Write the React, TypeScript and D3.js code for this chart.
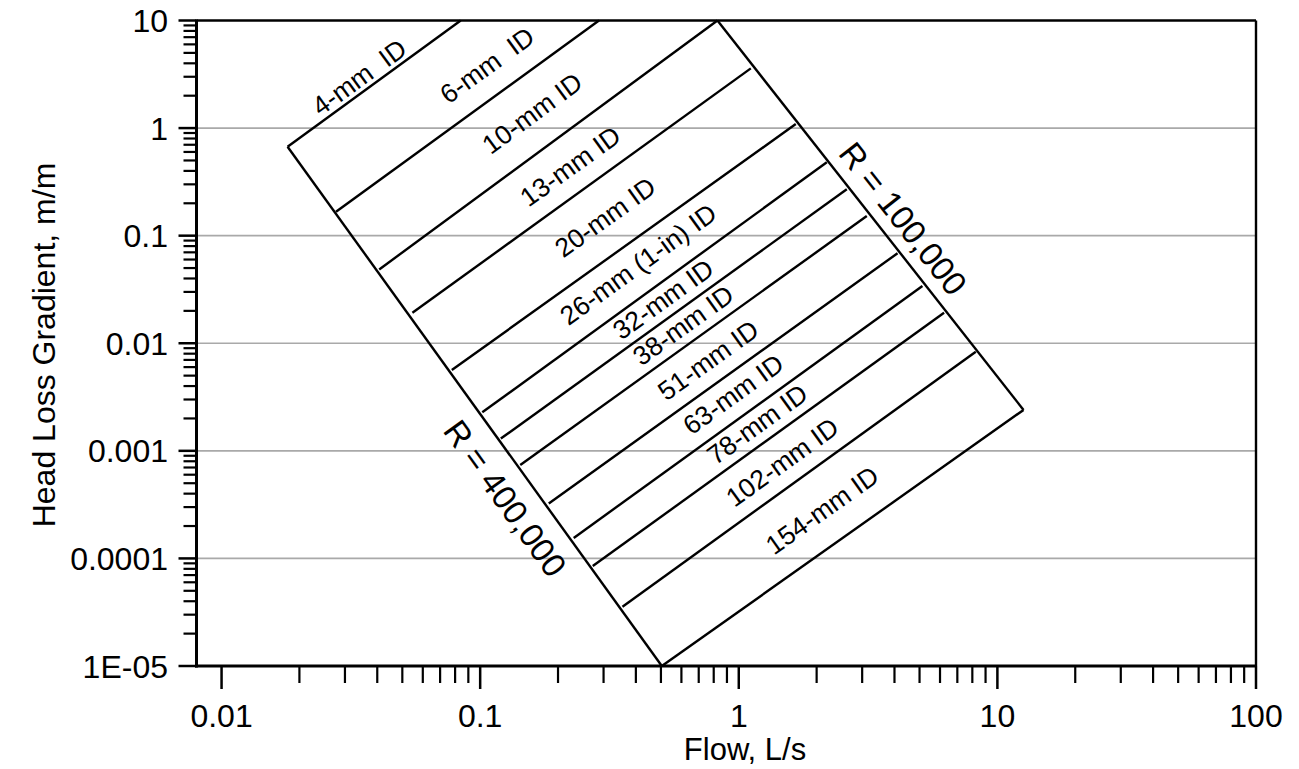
import React from 'react';
import * as d3 from 'd3';

// ---------- data ----------
const xMajorTicks = [0.01, 0.1, 1, 10, 100];
const xTickLabels = ['0.01', '0.1', '1', '10', '100'];
const yMajorTicks = [10, 1, 0.1, 0.01, 0.001, 0.0001, 0.00001];
const yTickLabels = ['10', '1', '0.1', '0.01', '0.001', '0.0001', '1E-05'];
const gridValues = [1, 0.1, 0.01, 0.001, 0.0001];

const pipeNames = [
  '4-mm  ID', '6-mm  ID', '10-mm ID', '13-mm ID', '20-mm ID', '26-mm (1-in) ID',
  '32-mm ID', '38-mm ID', '51-mm ID', '63-mm ID', '78-mm ID', '102-mm ID', '154-mm ID',
];
// [flow L/s, head loss m/m] where each pipe meets R = 400,000
const pipeStart: [number, number][] = [
  [0.0180, 0.671], [0.0277, 0.167], [0.0407, 0.0485], [0.0547, 0.0192],
  [0.0777, 0.00564], [0.1019, 0.00228], [0.1202, 0.0013], [0.1429, 0.000738],
  [0.1842, 0.000324], [0.230, 0.000155], [0.2725, 0.000085], [0.355, 0.0000356],
  [0.504, 0.00001],
];
// [flow, head] where each pipe meets R = 100,000 (or the top of the chart)
const pipeEnd: [number, number][] = [
  [0.0841, 10], [0.288, 10], [0.827, 10], [1.113, 3.59],
  [1.661, 1.09], [2.19, 0.481], [2.616, 0.270], [3.126, 0.1523],
  [4.11, 0.0686], [5.13, 0.0340], [6.22, 0.0192], [8.25, 0.00835],
  [12.62, 0.0024],
];
// label centres [flow, head]
const pipeLabelAt: [number, number][] = [
  [0.0340, 2.985], [0.1062, 3.86], [0.1586, 1.381], [0.2225, 0.4443],
  [0.304, 0.1491], [0.4076, 0.0545], [0.509, 0.02578], [0.6085, 0.01477],
  [0.760, 0.00699], [0.9496, 0.003375], [1.176, 0.001776], [1.469, 0.000787],
  [2.098, 0.000282],
];

const rNames = ['R = 400,000', 'R = 100,000'];
const rStart: [number, number][] = [[0.0180, 0.671], [0.827, 10]];
const rEnd: [number, number][] = [[0.504, 0.00001], [12.62, 0.0024]];
const rLabelAt: [number, number][] = [[0.1253, 0.000364], [4.33, 0.145]];

const xTitle = 'Flow, L/s';
const yTitle = 'Head Loss Gradient, m/m';

// ---------- layout ----------
const W = 1299;
const H = 769;
const left = 196.5;
const right = 1256;
const top = 20.5;
const bottom = 666;
const FONT = '"Liberation Sans", Arial, Helvetica, sans-serif';

export default function App() {
  const x = d3.scaleLog().domain([0.008, 100]).range([left, right]);
  const y = d3.scaleLog().domain([0.00001, 10]).range([bottom, top]);

  const xMinor = x.ticks().filter((v) => v >= 0.01 && !xMajorTicks.some((m) => Math.abs(m - v) / m < 1e-6));
  const yMinor = y.ticks().filter((v) => !yMajorTicks.some((m) => Math.abs(m - v) / m < 1e-6));

  const lineGen = d3.line<[number, number]>().x((d) => x(d[0])).y((d) => y(d[1]));

  const angleOf = (a: [number, number], b: [number, number]) =>
    (Math.atan2(y(b[1]) - y(a[1]), x(b[0]) - x(a[0])) * 180) / Math.PI;

  return (
    <svg width={W} height={H} style={{ position: 'absolute', left: 0, top: 0, background: '#fff' }} fontFamily={FONT}>
      <rect x={0} y={0} width={W} height={H} fill="#fff" />
      {/* grid */}
      {gridValues.map((g) => (
        <line key={'g' + g} x1={left} x2={right} y1={y(g)} y2={y(g)} stroke="#a9a9a9" strokeWidth={1.6} />
      ))}

      {/* pipe lines */}
      {pipeNames.map((n, i) => (
        <path key={'p' + n} d={lineGen([pipeStart[i], pipeEnd[i]]) || ''} stroke="#000" strokeWidth={2.4} fill="none" />
      ))}
      {/* R lines */}
      {rNames.map((n, i) => (
        <path key={'r' + n} d={lineGen([rStart[i], rEnd[i]]) || ''} stroke="#000" strokeWidth={2.4} fill="none" />
      ))}

      {/* pipe labels */}
      {pipeNames.map((n, i) => {
        const ang = angleOf(pipeStart[i], pipeEnd[i]);
        const cx = x(pipeLabelAt[i][0]);
        const cy = y(pipeLabelAt[i][1]);
        return (
          <text
            key={'pl' + n}
            transform={`translate(${cx},${cy}) rotate(${ang})`}
            textAnchor="middle"
            dy="0.36em"
            fontSize={26.5}
            fill="#000"
            style={{ whiteSpace: 'pre' }}
          >
            {n}
          </text>
        );
      })}
      {/* R labels */}
      {rNames.map((n, i) => {
        const ang = angleOf(rStart[i], rEnd[i]);
        const cx = x(rLabelAt[i][0]);
        const cy = y(rLabelAt[i][1]);
        return (
          <text
            key={'rl' + n}
            transform={`translate(${cx},${cy}) rotate(${ang})`}
            textAnchor="middle"
            dy="0.36em"
            fontSize={33.5}
            fill="#000"
          >
            {n}
          </text>
        );
      })}

      {/* frame */}
      <line x1={left} x2={right} y1={top} y2={top} stroke="#000" strokeWidth={2.4} />
      <line x1={right} x2={right} y1={top} y2={bottom} stroke="#000" strokeWidth={2.4} />
      <line x1={left} x2={left} y1={top - 1} y2={bottom + 1.5} stroke="#000" strokeWidth={3} />
      <line x1={left - 1.5} x2={right + 1} y1={bottom} y2={bottom} stroke="#000" strokeWidth={3} />

      {/* y ticks */}
      {yMajorTicks.map((v) => (
        <line key={'ym' + v} x1={left - 18} x2={left} y1={y(v)} y2={y(v)} stroke="#000" strokeWidth={2.5} />
      ))}
      {yMinor.map((v) => (
        <line key={'yn' + v} x1={left - 13} x2={left} y1={y(v)} y2={y(v)} stroke="#000" strokeWidth={2.2} />
      ))}
      {yMajorTicks.map((v, i) => (
        <text key={'yl' + v} x={168} y={y(v)} dy="0.36em" textAnchor="end" fontSize={32} fill="#000">
          {yTickLabels[i]}
        </text>
      ))}

      {/* x ticks */}
      {xMajorTicks.map((v) => (
        <line key={'xm' + v} x1={x(v)} x2={x(v)} y1={bottom} y2={bottom + 23} stroke="#000" strokeWidth={2.5} />
      ))}
      {xMinor.map((v) => (
        <line key={'xn' + v} x1={x(v)} x2={x(v)} y1={bottom} y2={bottom + 17} stroke="#000" strokeWidth={2.2} />
      ))}
      {xMajorTicks.map((v, i) => (
        <text key={'xl' + v} x={x(v)} y={727} textAnchor="middle" fontSize={32} fill="#000">
          {xTickLabels[i]}
        </text>
      ))}

      {/* titles */}
      <text x={745} y={760} textAnchor="middle" fontSize={31} fill="#000">
        {xTitle}
      </text>
      <text transform={`translate(55,345) rotate(-90)`} textAnchor="middle" fontSize={32} fill="#000">
        {yTitle}
      </text>
    </svg>
  );
}
